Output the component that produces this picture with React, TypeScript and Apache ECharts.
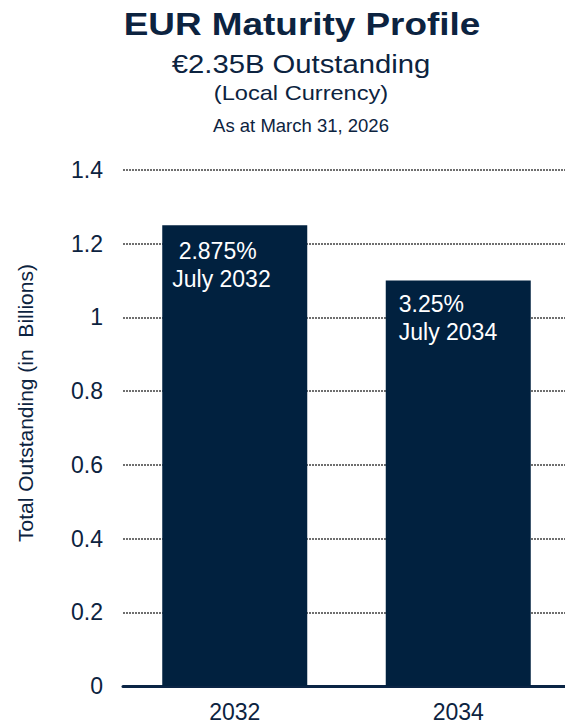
import React, { useEffect, useRef } from "react";
import * as echarts from "echarts";

const categories = ["2032", "2034"];
const values = [1.25, 1.1];
const barLabels = [" 2.875%\nJuly 2032", "3.25%\nJuly 2034"];
const titleText = "EUR Maturity Profile";
const subtitleText = "€2.35B Outstanding";
const currencyText = "(Local Currency)";
const dateText = "As at March 31, 2026";
const yAxisTitle = "Total Outstanding (in  Billions)";

const NAVY = "#01213f";
const TEXT = "#0c2340";
const FONT = "'Liberation Sans', Arial, Helvetica, sans-serif";

export default function App() {
  const ref = useRef<HTMLDivElement>(null);
  useEffect(() => {
    if (!ref.current) return;
    const chart = echarts.init(ref.current, undefined, { renderer: "svg" });
    const labelOffsets = [
      [10, 12],
      [13, 9],
    ];
    chart.setOption({
      animation: false,
      backgroundColor: "#ffffff",
      textStyle: { fontFamily: FONT },
      grid: { left: 123, top: 170, width: 447, height: 516, containLabel: false },
      graphic: [
        {
          type: "text",
          x: 302,
          y: 24,
          scaleX: 1.19,
          style: {
            text: titleText,
            fontFamily: FONT,
            fontSize: 31,
            fontWeight: "bold",
            fill: TEXT,
            align: "center",
            verticalAlign: "middle",
          },
        },
        {
          type: "text",
          x: 301,
          y: 64,
          scaleX: 1.17,
          style: {
            text: subtitleText,
            fontFamily: FONT,
            fontSize: 25,
            fill: TEXT,
            align: "center",
            verticalAlign: "middle",
          },
        },
        {
          type: "text",
          x: 301,
          y: 93,
          scaleX: 1.18,
          style: {
            text: currencyText,
            fontFamily: FONT,
            fontSize: 20,
            fill: TEXT,
            align: "center",
            verticalAlign: "middle",
          },
        },
        {
          type: "text",
          x: 301,
          y: 125,
          style: {
            text: dateText,
            fontFamily: FONT,
            fontSize: 18.5,
            fill: TEXT,
            align: "center",
            verticalAlign: "middle",
          },
        },
        {
          type: "text",
          x: 25,
          y: 403,
          rotation: Math.PI / 2,
          style: {
            text: yAxisTitle,
            fontFamily: FONT,
            fontSize: 21,
            fill: TEXT,
            align: "center",
            verticalAlign: "middle",
          },
        },
      ],
      xAxis: {
        type: "category",
        data: categories,
        axisTick: { show: false },
        axisLine: { show: true, lineStyle: { color: "#0b2545", width: 3 } },
        axisLabel: { fontSize: 23, color: TEXT, margin: 14, fontFamily: FONT },
        splitLine: { show: false },
      },
      yAxis: {
        type: "value",
        min: 0,
        max: 1.4,
        interval: 0.2,
        axisLine: { show: false },
        axisTick: { show: false },
        axisLabel: { fontSize: 23, color: TEXT, margin: 20, fontFamily: FONT },
        splitLine: {
          show: true,
          lineStyle: { color: "#6f6f6f", width: 2, type: [2, 1] },
        },
      },
      series: [
        {
          type: "bar",
          barWidth: 145,
          data: values.map((v, i) => ({
            value: v,
            label: {
              show: true,
              position: labelOffsets[i],
              formatter: barLabels[i],
              color: "#ffffff",
              fontSize: 23,
              lineHeight: 28,
              fontFamily: FONT,
              align: "left",
              verticalAlign: "top",
            },
          })),
          itemStyle: { color: NAVY },
        },
      ],
    });
    return () => chart.dispose();
  }, []);
  return (
    <div
      style={{
        position: "fixed",
        left: 0,
        top: 0,
        width: 565,
        height: 726,
        overflow: "hidden",
        background: "#ffffff",
      }}
    >
      <div ref={ref} style={{ width: 575, height: 726 }} />
    </div>
  );
}
